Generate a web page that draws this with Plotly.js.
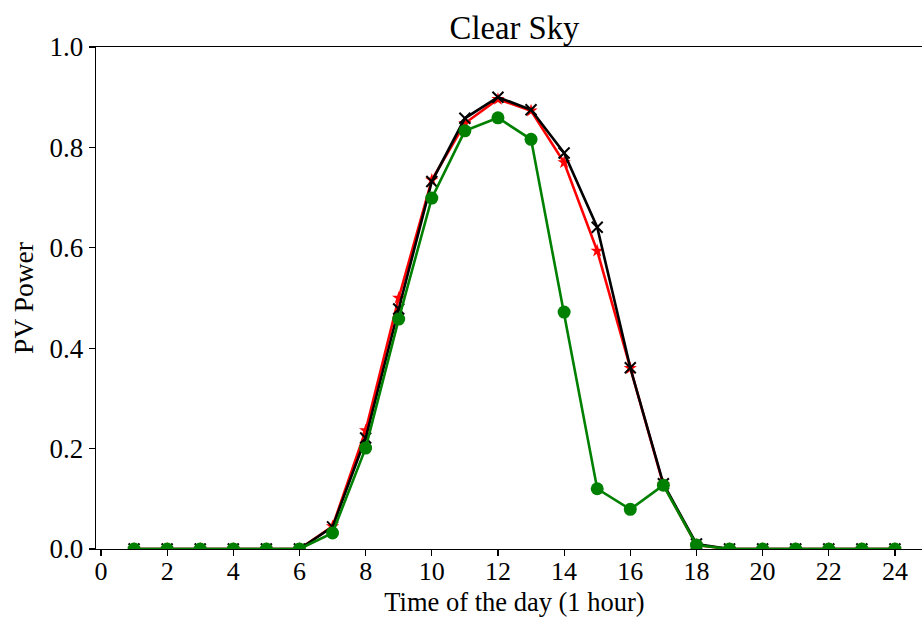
<!DOCTYPE html>
<html>
<head>
<meta charset="utf-8">
<script src="https://cdn.plot.ly/plotly-3.0.1.min.js"></script>
<style>
html,body{margin:0;padding:0;overflow:hidden;background:#fff;}
#chart{width:934px;height:617px;}
</style>
</head>
<body>
<div id="chart"></div>
<script>
const hours = [1,2,3,4,5,6,7,8,9,10,11,12,13,14,15,16,17,18,19,20,21,22,23,24];
const actual = [0,0,0,0,0,0,0.044,0.221,0.478,0.732,0.858,0.900,0.875,0.789,0.641,0.361,0.130,0.010,0,0,0,0,0,0];
const forecastA = [0,0,0,0,0,0,0.045,0.236,0.500,0.735,0.848,0.896,0.873,0.770,0.594,0.360,0.128,0.008,0,0,0,0,0,0];
const forecastB = [0,0,0,0,0,0,0.032,0.201,0.458,0.699,0.833,0.859,0.816,0.472,0.120,0.079,0.127,0.008,0,0,0,0,0,0];
const xTicks = [0,2,4,6,8,10,12,14,16,18,20,22,24];
const yTicks = [0,0.2,0.4,0.6,0.8,1.0];
const yTickText = ["0.0","0.2","0.4","0.6","0.8","1.0"];

const font = {family: "Liberation Serif, Times New Roman, serif", color: "#000"};

const traces = [
  {x: hours, y: forecastA, mode: "lines+markers", name: "A",
   line: {color: "#ff0000", width: 2.6},
   marker: {symbol: "star", size: 10, color: "#ff0000"}},
  {x: hours, y: actual, mode: "lines+markers", name: "Actual",
   line: {color: "#000000", width: 2.6},
   marker: {symbol: "x-thin-open", size: 11, color: "#000000", line: {width: 2, color: "#000000"}}},
  {x: hours, y: forecastB, mode: "lines+markers", name: "B",
   line: {color: "#008000", width: 2.6},
   marker: {symbol: "circle", size: 13, color: "#008000"}}
];

const layout = {
  width: 934, height: 617,
  margin: {l: 96, r: 1, t: 47, b: 68},
  paper_bgcolor: "#fff", plot_bgcolor: "#fff",
  showlegend: false,
  font: Object.assign({size: 27}, font),
  title: {text: "Clear Sky", font: Object.assign({size: 32.7}, font), xref: "paper", x: 0.5, xanchor: "center", y: 0.955, yanchor: "middle"},
  xaxis: {
    range: [-0.15, 25.15], tickvals: xTicks, ticktext: xTicks.map(String),
    ticks: "outside", ticklen: 6, tickwidth: 1.2, tickcolor: "#000",
    ticklabelstandoff: -8,
    showline: true, linecolor: "#000", linewidth: 1.3, mirror: true,
    showgrid: false, zeroline: false, automargin: false,
    tickfont: Object.assign({size: 26}, font),
    title: {text: "Time of the day (1 hour)", font: Object.assign({size: 26.5}, font), standoff: 14}
  },
  yaxis: {
    range: [0, 1.0], tickvals: yTicks, ticktext: yTickText,
    ticks: "outside", ticklen: 6, tickwidth: 1.2, tickcolor: "#000",
    showline: true, linecolor: "#000", linewidth: 1.3, mirror: true,
    showgrid: false, zeroline: false, automargin: false,
    tickfont: Object.assign({size: 27}, font),
    title: {text: "PV Power", font: Object.assign({size: 27.5}, font), standoff: 8}
  }
};

Plotly.newPlot("chart", traces, layout, {displayModeBar: false, staticPlot: true});
</script>
</body>
</html>
